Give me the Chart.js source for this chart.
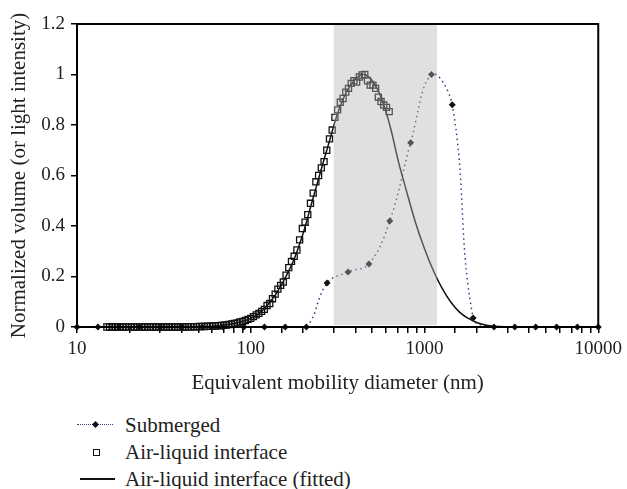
<!DOCTYPE html>
<html>
<head>
<meta charset="utf-8">
<script src="https://cdn.jsdelivr.net/npm/chart.js@4"></script>
<style>
  body { margin: 0; background: #fff; }
  #wrap { position: relative; width: 627px; height: 489px; font-family: "Liberation Serif", "Times New Roman", "DejaVu Serif", serif; color: #222; }
  #c { position: absolute; left: 0; top: 0; }
  .row { position: absolute; left: 0; height: 26px; width: 627px; }
  .txt { position: absolute; left: 125px; top: 0; line-height: 26px; font-size: 21px; }
  .dots { position: absolute; left: 77px; width: 36px; top: 12px; border-top: 1.5px dotted #3a3a8c; }
  .dia { position: absolute; left: 93px; top: 10px; width: 5px; height: 5px; background: #111; transform: rotate(45deg); }
  .sq { position: absolute; left: 93px; top: 10px; width: 5px; height: 5px; border: 1.3px solid #111; background: #fff; }
  .solid { position: absolute; left: 80px; width: 35px; top: 12px; border-top: 2px solid #111; }
</style>
</head>
<body>
<div id="wrap">
  <canvas id="c" width="627" height="400"></canvas>
  <div class="row" style="top:412px"><div class="dots"></div><div class="dia"></div><div class="txt">Submerged</div></div>
  <div class="row" style="top:439px"><div class="sq"></div><div class="txt">Air-liquid interface</div></div>
  <div class="row" style="top:466px"><div class="solid"></div><div class="txt">Air-liquid interface (fitted)</div></div>
</div>
<script>
// Submerged (light intensity), log-spaced sizes in nm
const subX = [10, 13.2, 17.4, 22.9, 30.2, 39.8, 52.5, 69.2, 91.2, 120, 158, 209, 275, 363, 479, 631, 832, 1096, 1445, 1905, 2512, 3311, 4365, 5754, 7586, 10000];
const subY = [0, 0, 0, 0, 0, 0, 0, 0, 0, 0, 0, 0, 0.174, 0.218, 0.25, 0.42, 0.73, 1.0, 0.88, 0.036, 0, 0, 0, 0, 0, 0];

// Air-liquid interface (SMPS channels)
const alX = [14.86, 15.40, 15.96, 16.55, 17.15, 17.78, 18.43, 19.11, 19.81, 20.54,
  21.29, 22.07, 22.88, 23.71, 24.58, 25.48, 26.42, 27.38, 28.39, 29.43,
  30.51, 31.62, 32.78, 33.98, 35.23, 36.52, 37.86, 39.25, 40.69, 42.17,
  43.72, 45.32, 46.98, 48.70, 50.49, 52.34, 54.26, 56.23, 58.29, 60.43,
  62.64, 64.94, 67.32, 69.78, 72.34, 74.99, 77.74, 80.58, 83.54, 86.60,
  89.77, 93.06, 96.47, 100.0, 103.7, 107.5, 111.4, 115.5, 119.7, 124.1,
  128.6, 133.4, 138.2, 143.3, 148.6, 154.0, 159.7, 165.5, 171.6, 177.8,
  184.3, 191.1, 198.1, 205.4, 212.9, 220.7, 228.8, 237.1, 245.8, 254.8,
  264.2, 273.8, 283.9, 294.3, 305.1, 316.2, 327.8, 339.8, 352.3, 365.2,
  378.6, 392.5, 406.9, 421.7, 437.2, 453.2, 469.8, 487.0, 504.9, 523.4,
  542.6, 562.3, 582.9, 604.3, 626.4];
const alY = [0, 0, 0, 0, 0, 0, 0, 0, 0, 0,
  0, 0, 0, 0, 0, 0, 0, 0, 0, 0,
  0, 0, 0, 0, 0, 0, 0, 0, 0, 0,
  0.001, 0.001, 0.001, 0.001, 0.002, 0.002,
  0.002, 0.003, 0.003, 0.004, 0.004,
  0.005, 0.006, 0.007, 0.008, 0.01, 0.012, 0.014, 0.016, 0.02, 0.022, 0.026, 0.03, 0.034, 0.041,
  0.048, 0.054, 0.062, 0.07, 0.085, 0.093, 0.112, 0.13, 0.15, 0.165,
  0.178, 0.205, 0.235, 0.26, 0.28, 0.305, 0.345, 0.39, 0.415, 0.445,
  0.49, 0.53, 0.575, 0.60, 0.63, 0.655, 0.70, 0.745, 0.78, 0.83,
  0.86, 0.89, 0.905, 0.93, 0.945, 0.965, 0.975, 0.97, 0.99, 0.998,
  1.0, 0.975, 0.958, 0.958, 0.945, 0.91, 0.893, 0.879, 0.87, 0.853];

// Fitted curve
const fitX = [15, 20, 30, 40, 50, 63, 71, 79, 89, 100, 112, 126, 141, 158, 178, 200, 224, 251, 282, 316,
  355, 398, 447, 501, 562, 631, 708, 794, 891, 1000, 1122, 1259, 1413, 1585, 1778, 1995, 2239, 2512, 3162];
const fitY = [0, 0, 0, 0, 0.001, 0.004, 0.008, 0.013, 0.022, 0.034, 0.054, 0.09, 0.135, 0.195, 0.27, 0.37, 0.49, 0.61, 0.73, 0.845,
  0.93, 0.98, 1.0, 0.975, 0.91, 0.80, 0.655, 0.53, 0.41, 0.31, 0.225, 0.155, 0.1, 0.06, 0.035, 0.018, 0.008, 0.003, 0];

// shaded size band (nm)
const band = [300, 1180];

const majorTicks = [10, 100, 1000, 10000];
const yTicks = [0, 0.2, 0.4, 0.6, 0.8, 1, 1.2];

const pts = (xs, ys) => xs.map((x, i) => ({ x: x, y: ys[i] }));

const bandPlugin = {
    id: 'band',
    afterDatasetsDraw(chart) {
        const { ctx, chartArea, scales } = chart;
        const x1 = scales.x.getPixelForValue(band[0]);
        const x2 = scales.x.getPixelForValue(band[1]);
        const yb = scales.y.getPixelForValue(0) - 2;
        ctx.save();
        ctx.fillStyle = 'rgba(180,180,180,0.42)';
        ctx.fillRect(x1, chartArea.top, x2 - x1, yb - chartArea.top);
        ctx.restore();
    },
    afterDraw(chart) {
        const { ctx, chartArea } = chart;
        ctx.save();
        ctx.strokeStyle = '#000';
        ctx.lineWidth = 2;
        ctx.strokeRect(chartArea.left, chartArea.top, chartArea.right - chartArea.left, chartArea.bottom - chartArea.top);
        ctx.restore();
    }
};

const font = '"Liberation Serif", "Times New Roman", "DejaVu Serif", serif';

new Chart(document.getElementById('c'), {
    type: 'line',
    data: {
        datasets: [
            {
                label: 'Submerged',
                data: pts(subX, subY),
                borderColor: '#3a3a8c',
                borderWidth: 1.5,
                borderDash: [1.5, 3.5],
                tension: 0.4,
                pointStyle: 'rectRot',
                pointRadius: 3.5,
                pointBackgroundColor: '#111',
                pointBorderColor: '#111',
                pointBorderWidth: 0,
                clip: 8,
                order: 3
            },
            {
                label: 'Air-liquid interface (fitted)',
                data: pts(fitX, fitY),
                borderColor: '#111',
                borderWidth: 1.5,
                tension: 0.4,
                pointRadius: 0,
                order: 2
            },
            {
                label: 'Air-liquid interface',
                data: pts(alX, alY),
                showLine: false,
                pointStyle: 'rect',
                pointRadius: 4.3,
                pointBackgroundColor: 'rgba(255,255,255,0)',
                pointBorderColor: '#111',
                pointBorderWidth: 1.3,
                clip: 8,
                order: 1
            }
        ]
    },
    options: {
        responsive: false,
        animation: false,
        layout: { padding: { top: 24, right: 25, left: 0, bottom: 0 } },
        plugins: {
            legend: { display: false },
            tooltip: { enabled: false }
        },
        scales: {
            x: {
                type: 'logarithmic',
                min: 10,
                max: 10000,
                afterFit(s) { s.height = 73; },
                border: { color: '#000', width: 2 },
                grid: { drawOnChartArea: false, drawTicks: true, tickLength: 6, color: '#000', lineWidth: 1.5 },
                ticks: {
                    autoSkip: false,
                    maxRotation: 0,
                    padding: 5,
                    color: '#222',
                    font: { family: font, size: 19 },
                    callback: (v) => majorTicks.includes(v) ? String(v) : ''
                },
                title: {
                    display: true,
                    text: 'Equivalent mobility diameter (nm)',
                    color: '#222',
                    font: { family: font, size: 21 },
                    padding: { top: 4, bottom: 4 }
                }
            },
            y: {
                min: 0,
                max: 1.2,
                afterFit(s) { s.width = 77; },
                afterBuildTicks(s) { s.ticks = yTicks.map(v => ({ value: v })); },
                border: { color: '#000', width: 2 },
                grid: { drawOnChartArea: false, drawTicks: true, tickLength: 6, color: '#000', lineWidth: 1.5 },
                ticks: {
                    padding: 6,
                    color: '#222',
                    font: { family: font, size: 19 },
                    callback: (v) => String(Math.round(v * 10) / 10)
                },
                title: {
                    display: true,
                    text: 'Normalized volume (or light intensity)',
                    color: '#222',
                    font: { family: font, size: 21 },
                    padding: { top: 7, bottom: 4 }
                }
            }
        }
    },
    plugins: [bandPlugin]
});
</script>
</body>
</html>
